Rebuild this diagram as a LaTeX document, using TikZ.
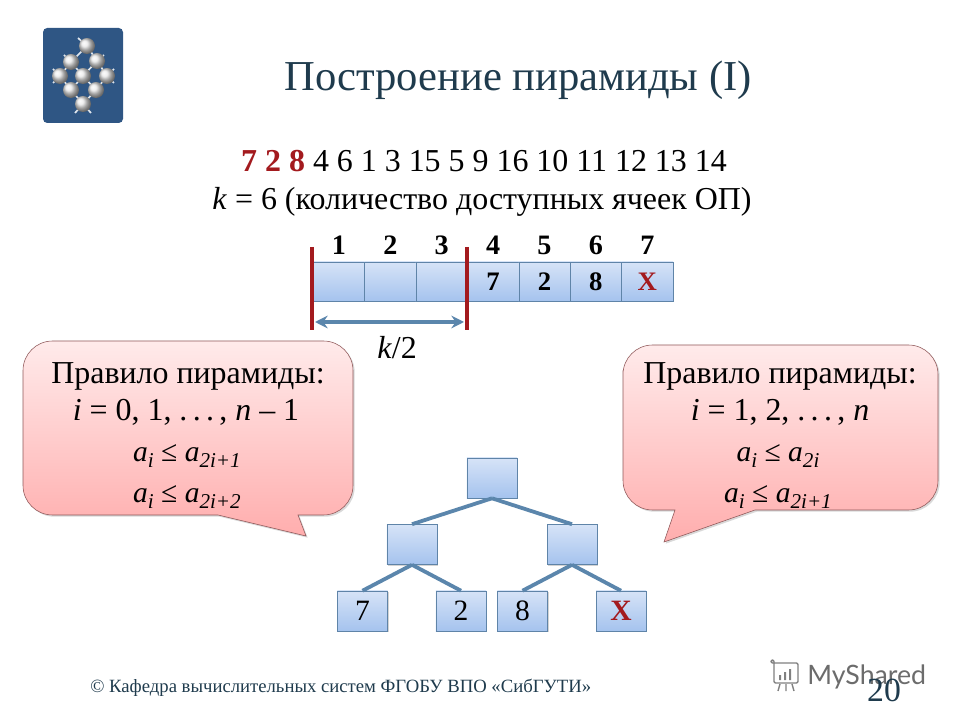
\documentclass[tikz,border=0pt]{standalone}
\usepackage{fontspec}
\setmainfont{Liberation Serif}
\newfontfamily\marksans{Lato}
\usetikzlibrary{shadows,arrows.meta}

\definecolor{titlecol}{HTML}{1F3B4D}
\definecolor{markred}{HTML}{A31A1E}
\definecolor{linecol}{HTML}{5B86AC}
\definecolor{cellline}{HTML}{5F84A8}
\definecolor{celltop}{HTML}{D6E3F7}
\definecolor{cellbot}{HTML}{A5C3EE}
\definecolor{logocol}{HTML}{2F5684}

\newcommand{\ix}[1]{\raisebox{-4pt}{\fontsize{15}{15}\selectfont\textit{#1}}}
\newcommand{\ai}{\textit{a}\ix{i}}

\tikzset{
	cell/.style={draw=cellline, top color=celltop, bottom color=cellbot, minimum width=1.285cm, minimum height=0.975cm, inner sep=0pt, drop shadow={shadow xshift=0.8pt, shadow yshift=-0.8pt, opacity=0.35}, font=\fontsize{19}{19}\selectfont},
	treecell/.style={cell, minimum width=1.25cm, minimum height=1cm, font=\fontsize{21}{21}\selectfont},
	callout/.style={draw=markred!40!gray, top color=red!8, bottom color=red!32, drop shadow={shadow xshift=1.2pt, shadow yshift=-1.2pt, opacity=0.3}},
	ruletext/.style={anchor=base, font=\fontsize{22.7}{23}\selectfont},
	ruleform/.style={anchor=base, font=\fontsize{21}{21}\selectfont},
	treeline/.style={draw=linecol, line width=2.7pt},
	redbar/.style={draw=markred, line width=2.5pt}
}

\begin{document}
\begin{tikzpicture}[x=0.025cm, y=-0.025cm]
	\useasboundingbox (0,0) rectangle (960,720);

	% logo
	\fill[logocol, rounded corners=3pt] (43,28) rectangle (123,123);
	\draw[white!85!logocol, line width=1.2pt] (87,46) -- (78,38) (87,46) -- (97,61) (87,46) -- (71,62) (71,62) -- (64,55) (97,61) -- (104,55) (71,62) -- (60,76) (71,62) -- (83,76) (97,61) -- (83,76) (97,61) -- (107,76) (60,76) -- (71,90) (83,76) -- (71,90) (83,76) -- (96,90) (107,76) -- (96,90) (71,90) -- (83,104) (96,90) -- (83,104) (83,104) -- (75,113) (83,104) -- (91,113) (60,76) -- (53,69) (107,76) -- (114,69) (60,76) -- (53,83) (107,76) -- (114,83);
	\foreach \x/\y in {87/46,71/62,97/61,60/76,83/76,107/76,71/90,96/90,83/104} {
		\shade[ball color=white!82!gray] (\x,\y) circle (8);
	}

	\node[text=titlecol, font=\fontsize{30.3}{31}\selectfont] (title) at (518,80) {Построение пирамиды (I)};
	\node[font=\fontsize{22.7}{23}\selectfont, anchor=base] (seq) at (484,172) {\textcolor{markred}{\textbf{7 2 8}} 4 6 1 3 15 5 9 16 10 11 12 13 14};
	\node[font=\fontsize{22.7}{23}\selectfont, anchor=base] (klabel) at (482,210) {\textit{k} = 6 (количество доступных ячеек ОП)};

	% array
	\foreach \i/\val in {1/,2/,3/,4/7,5/2,6/8,7/\textcolor{markred}{X}} {
		\node[cell] (c\i) at ({287.5+51.4*\i},281.5) {\textbf{\val}};
		\node[font=\fontsize{20}{20}\selectfont\bfseries] (n\i) at ({287.5+51.4*\i},245) {\i};
	}

	\coordinate (bar1a) at (312,247);
	\coordinate (bar1b) at (312,330);
	\coordinate (bar2a) at (467,247);
	\coordinate (bar2b) at (467,330);
	\coordinate (arr1) at (315,322);
	\coordinate (arr2) at (464,322);
	\draw[redbar] (bar1a) -- (bar1b);
	\draw[redbar] (bar2a) -- (bar2b);
	\draw[treeline, {Stealth[length=9pt,width=9pt,inset=3pt]}-{Stealth[length=9pt,width=9pt,inset=3pt]}] (arr1) -- (arr2);
	\node[font=\fontsize{22.7}{23}\selectfont] (half) at (397,348) {\textit{k}/2};

	% callouts
	\path[callout] (23,400) [rounded corners=21pt] -- (23,341) -- (353,341) -- (353,515) [sharp corners] -- (298,515) -- (306,536) -- (218,515) [rounded corners=21pt] -- (23,515) -- cycle;
	\path[callout] (623,400) [rounded corners=21pt] -- (623,345) -- (938,345) -- (938,510) [sharp corners] -- (755,510) -- (664,542) -- (675,510) [rounded corners=21pt] -- (623,510) -- cycle;

	\node[ruletext] (la) at (188,384) {Правило пирамиды:};
	\node[ruletext] (lb) at (186,421) {\textit{i} = 0, 1, .\,.\,.\,, \textit{n} – 1};
	\node[ruleform] (lc) at (187,462) {\ai{} ≤ \textit{a}\ix{2i+1}};
	\node[ruleform] (ld) at (187,503) {\ai{} ≤ \textit{a}\ix{2i+2}};

	\node[ruletext] (ra) at (780,384) {Правило пирамиды:};
	\node[ruletext] (rb) at (780,421) {\textit{i} = 1, 2, .\,.\,.\,, \textit{n}};
	\node[ruleform] (rc) at (778,462) {\ai{} ≤ \textit{a}\ix{2i}};
	\node[ruleform] (rd) at (778,503) {\ai{} ≤ \textit{a}\ix{2i+1}};

	% tree
	\node[treecell] (root) at (492,478) {};
	\node[treecell] (left) at (412,544.5) {};
	\node[treecell] (right) at (572,544.5) {};
	\node[treecell] (t7) at (362.5,611) {7};
	\node[treecell] (t2) at (461,611) {2};
	\node[treecell] (t8) at (522.5,611) {8};
	\node[treecell] (tx) at (621,611) {\textcolor{markred}{\textbf{X}}};
	\draw[treeline] (root.south) -- (left.north);
	\draw[treeline] (root.south) -- (right.north);
	\draw[treeline] (left.south) -- (t7.north);
	\draw[treeline] (left.south) -- (t2.north);
	\draw[treeline] (right.south) -- (t8.north);
	\draw[treeline] (right.south) -- (tx.north);

	% footer
	\node[text=titlecol, font=\fontsize{13.3}{14}\selectfont, anchor=base west, inner sep=0pt] (foot) at (90,692) {© Кафедра вычислительных систем ФГОБУ ВПО «СибГУТИ»};

	% watermark
	\draw[gray, line width=1pt, rounded corners=1pt] (771,663) -- (798,663) -- (798,683) -- (774,683) -- (774,660) -- (771,660) -- cycle;
	\draw[gray, line width=1pt] (780,684) -- (778,691) (786,684) -- (786,691) (792,684) -- (794,691);
	\fill[gray] (779,675) rectangle (781,680) (784,672) rectangle (786,680) (789,669) rectangle (791,680);
	\node[text=gray!85!black, font=\marksans\fontsize{19}{19}\selectfont, anchor=base west, inner sep=0pt] (mark) at (807,684) {MyShared};
	\node[text=titlecol, font=\fontsize{24}{24}\selectfont, anchor=base] (page) at (884,701) {20};
\end{tikzpicture}
\end{document}
